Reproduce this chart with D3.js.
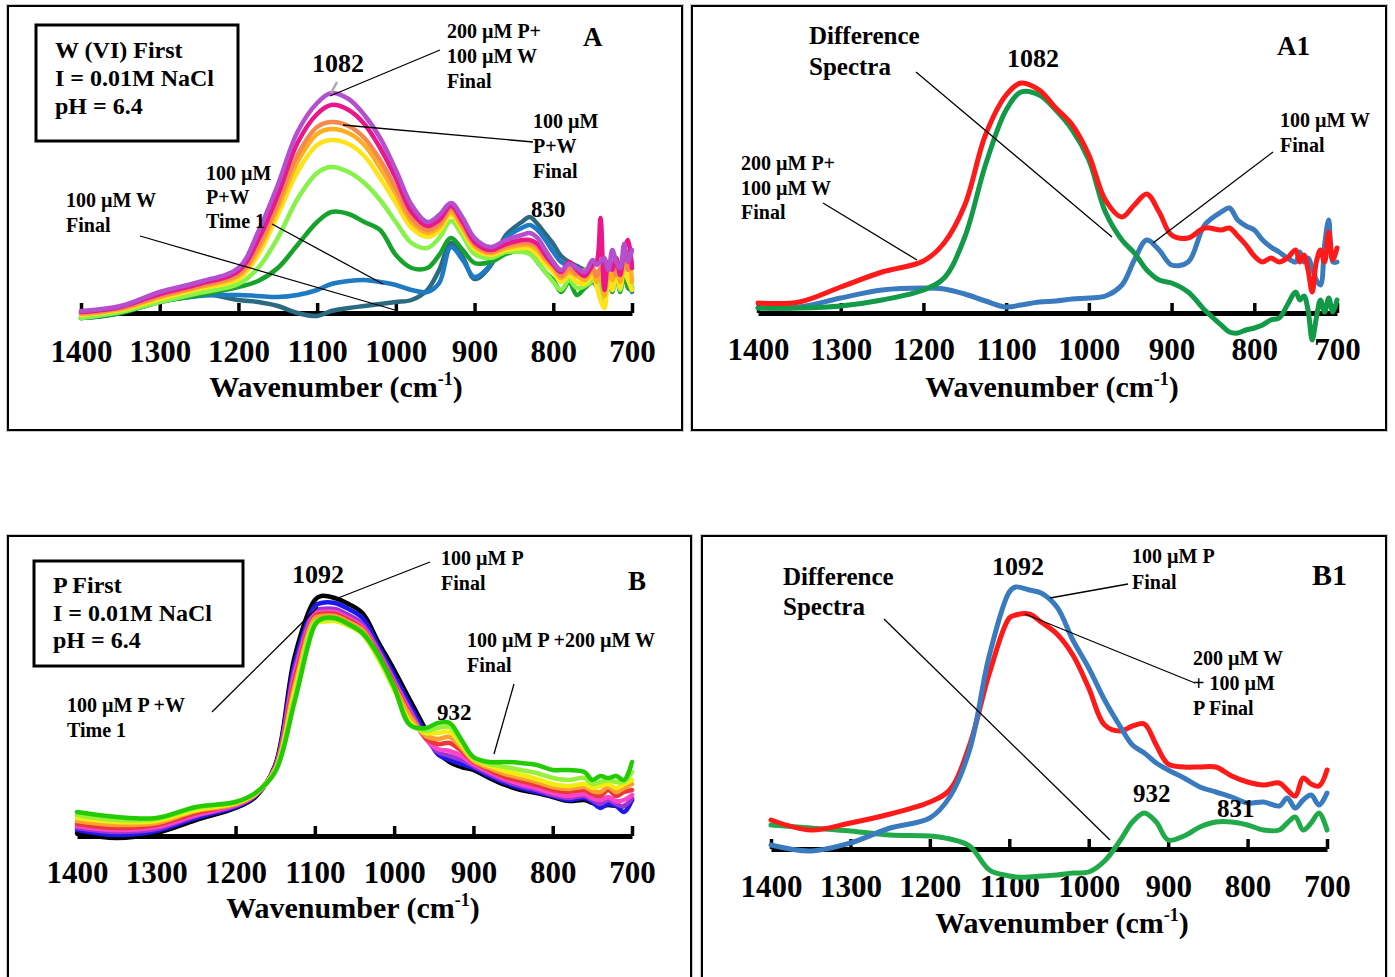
<!DOCTYPE html>
<html>
<head>
<meta charset="utf-8">
<script src="https://cdn.jsdelivr.net/npm/d3@7"></script>
<style>
  body { margin: 0; background: #fff; }
  svg text { font-family: "Liberation Serif", "Times New Roman", serif; font-weight: bold; fill: #000; }
</style>
</head>
<body>
<svg id="chart" width="1395" height="977"></svg>
<script>
// x axis ticks (wavenumber, cm-1)
const tickValues = [1400, 1300, 1200, 1100, 1000, 900, 800, 700];

// wavenumber grids the spectra were read at
const wnTop = [1400,1350,1300,1250,1200,1175,1150,1125,1100,1082,1060,1040,1020,1000,980,960,945,930,915,900,880,860,840,830,820,810,800,790,780,770,760,750,745,740,735,730,725,720,715,710,705,700];
const wnBottom = [1400,1350,1300,1250,1200,1175,1150,1125,1100,1092,1075,1060,1040,1020,1000,980,960,945,930,915,900,880,860,840,820,800,780,760,750,740,730,720,710,700];

// Panel A - W(VI) first, absorbance (a.u. x100)
const aPurple  = [2,7,21,31,45,81,128,181,210,220,214,198,175,143,108,91,98,110,95,75,66,73,78,80,75,63,51,43,49,45,41,53,48,51,55,43,63,51,45,69,51,63];
const aMagenta = [1,6,19,29,42,73,118,170,199,208,203,189,165,135,101,87,93,107,91,71,63,69,73,73,69,58,48,41,51,43,37,48,51,95,23,51,43,55,38,63,73,45];
const aCoral   = [0,5,17,27,39,67,110,158,186,191,187,175,153,125,95,83,89,104,88,69,61,67,70,70,66,55,51,37,45,39,43,45,37,45,41,43,51,38,47,57,43,51];
const aOrange  = [-1,4,16,26,37,63,105,151,179,184,180,168,145,119,91,80,86,101,85,67,60,65,68,68,63,53,45,35,41,37,33,43,31,38,17,41,33,51,31,51,61,31];
const aYellow  = [-2,3,14,24,34,58,98,141,168,173,169,157,135,110,85,76,82,98,82,64,58,63,65,64,58,49,41,31,37,31,29,37,27,13,5,33,23,45,25,47,33,23];
const aLime    = [-5,1,11,20,29,45,75,114,140,146,141,130,113,91,70,65,75,92,77,59,55,61,61,59,51,41,31,23,33,25,27,33,41,23,13,31,23,41,23,43,33,27];
const aGreen   = [-5,0,11,18,26,32,45,68,91,101,99,91,83,58,45,45,58,75,63,50,51,59,63,61,51,41,33,21,31,18,25,31,27,21,15,33,21,43,21,41,25,23];
const aBlue    = [-5,0,11,17,18,17,16,18,23,29,32,33,31,28,23,21,30,66,53,36,48,75,85,88,83,73,61,51,47,45,41,43,35,31,23,38,28,43,23,38,31,21];
const aTeal    = [-5,0,16,20,13,11,7,0,-3,2,5,7,9,11,13,23,43,70,56,34,47,78,91,96,89,79,69,57,51,47,43,41,37,31,27,41,33,41,27,41,33,25];

// Panel A1 - difference spectra
const a1Red   = [10,11,26,41,52,70,108,178,218,230,223,205,188,158,113,96,108,119,101,78,75,85,83,85,77,68,57,51,55,51,55,63,51,58,43,21,51,63,51,81,53,65];
const a1Green = [5,5,7,13,23,35,76,148,203,221,218,203,183,153,101,73,60,43,33,30,21,3,-12,-19,-20,-17,-15,-12,-7,-5,8,21,13,17,3,-27,-5,13,1,15,1,13];
const a1Blue  = [5,6,15,23,25,24,19,12,6,8,11,12,14,15,17,28,53,73,63,48,51,88,101,105,93,87,83,73,66,61,55,51,61,51,55,45,33,28,68,93,51,51];

// Panel B - P first
const bBlack   = [3,-2,3,16,28,39,71,181,236,240,238,233,223,194,166,136,106,84,74,69,66,58,51,46,43,39,35,36,33,30,31,30,30,36];
const bBlue    = [6,1,5,18,29,40,70,174,230,233,233,228,218,190,161,131,102,82,76,72,68,60,53,48,44,40,36,38,34,28,32,30,24,36];
const bPurple  = [8,4,7,20,30,41,69,168,225,227,227,222,212,186,156,126,98,84,80,76,70,62,55,50,46,41,38,40,36,32,36,32,30,38];
const bMagenta = [10,6,9,21,31,41,68,164,222,224,224,219,209,184,154,124,97,87,85,80,72,64,57,52,48,43,40,42,38,36,39,35,36,41];
const bRed     = [12,8,11,23,32,42,68,158,220,222,222,217,207,182,152,122,98,92,93,85,74,66,59,55,51,46,44,46,42,40,46,40,44,46];
const bOrange  = [15,11,13,25,32,42,67,152,218,220,220,215,206,180,150,120,100,97,99,88,75,68,62,58,54,49,47,49,45,44,49,44,48,52];
const bYellow  = [18,14,15,26,33,42,66,146,213,214,215,211,202,177,146,114,103,103,104,91,77,70,65,61,57,52,50,52,48,50,52,48,52,56];
const bLime    = [21,16,17,28,34,43,66,141,214,216,217,212,203,179,148,112,105,108,109,94,78,72,69,66,63,58,56,58,52,54,56,54,54,64];
const bGreen   = [24,19,18,29,34,43,64,136,211,217,218,213,203,181,149,111,108,113,113,96,79,74,74,73,71,66,66,64,56,60,58,60,56,74];

// Panel B1 - difference spectra
const b1Red   = [29,19,26,35,47,59,104,176,231,234,235,227,215,194,161,124,118,123,125,104,85,82,82,82,73,67,64,66,59,53,71,65,63,79];
const b1Blue  = [4,-2,6,21,31,52,99,194,257,262,259,256,242,209,181,149,122,104,96,86,79,71,62,57,52,46,47,43,51,41,49,54,44,56];
const b1Green = [24,21,18,14,13,10,3,-21,-27,-28,-28,-27,-26,-24,-23,-12,9,27,36,27,9,13,22,27,27,24,19,19,26,32,19,26,36,19];

const svg = d3.select('#chart');

const panels = [
    {
        frame: [8, 6, 682, 430], xRange: [81, 632], axisY: 313, wn: wnTop,
        tickBase: 362, titleX: 336, titleY: 397, lineWidth: 4.5,
        series: [
            [aTeal, '#2b6a80'], [aBlue, '#1f7ac4'], [aGreen, '#17a32b'], [aLime, '#86f24a'],
            [aYellow, '#ffe31a'], [aOrange, '#ffae1f'], [aCoral, '#f5884f'], [aMagenta, '#ea168c'], [aPurple, '#b54fce']
        ],
        box: [36, 25, 202, 116],
        texts: [
            { x: 55, y: 58, lh: 28, size: 24, lines: ['W (VI) First', 'I = 0.01M NaCl', 'pH = 6.4'] },
            { x: 338, y: 72, size: 26, anchor: 'middle', lines: ['1082'] },
            { x: 583, y: 46, size: 27, lines: ['A'] },
            { x: 447, y: 38, lh: 25, size: 20, lines: ['200 µM P+', '100 µM W', 'Final'] },
            { x: 533, y: 128, lh: 25, size: 20, lines: ['100 µM', 'P+W', 'Final'] },
            { x: 531, y: 217, size: 23, lines: ['830'] },
            { x: 206, y: 180, lh: 24, size: 20, lines: ['100 µM', 'P+W', 'Time 1'] },
            { x: 66, y: 207, lh: 25, size: 20, lines: ['100 µM W', 'Final'] }
        ],
        leaders: [[440, 50, 330, 96], [533, 142, 343, 125], [272, 224, 383, 284], [140, 236, 395, 310]],
        marks: [[331, 93, 337, 82]]
    },
    {
        frame: [692, 6, 1386, 430], xRange: [758, 1337], axisY: 313, wn: wnTop,
        tickBase: 360, titleX: 1052, titleY: 397, lineWidth: 5,
        series: [[a1Blue, '#3a7bc0'], [a1Green, '#129a48'], [a1Red, '#ff1a1a']],
        texts: [
            { x: 809, y: 44, lh: 31, size: 25, lines: ['Difference', 'Spectra'] },
            { x: 1033, y: 67, size: 26, anchor: 'middle', lines: ['1082'] },
            { x: 1277, y: 55, size: 27, lines: ['A1'] },
            { x: 741, y: 170, lh: 24.5, size: 20, lines: ['200 µM P+', '100 µM W', 'Final'] },
            { x: 1280, y: 127, lh: 25, size: 20, lines: ['100 µM W', 'Final'] }
        ],
        leaders: [[916, 72, 1112, 237], [823, 203, 917, 260], [1273, 152, 1153, 243]]
    },
    {
        frame: [8, 536, 691, 990], xRange: [77, 632], axisY: 836, wn: wnBottom,
        tickBase: 883, titleX: 353, titleY: 918, lineWidth: 4.5,
        series: [
            [bBlack, '#000000'], [bBlue, '#1a1aee'], [bPurple, '#a033d4'], [bMagenta, '#ff44cc'],
            [bRed, '#e8383a'], [bOrange, '#ff9f30'], [bYellow, '#f2ec10'], [bLime, '#99f03a'], [bGreen, '#22cc00']
        ],
        box: [34, 561, 209, 105],
        texts: [
            { x: 53, y: 593, lh: 27.5, size: 24, lines: ['P First', 'I = 0.01M NaCl', 'pH = 6.4'] },
            { x: 318, y: 583, size: 26, anchor: 'middle', lines: ['1092'] },
            { x: 441, y: 565, lh: 25, size: 20, lines: ['100 µM P', 'Final'] },
            { x: 67, y: 712, lh: 25, size: 20, lines: ['100 µM P +W', 'Time 1'] },
            { x: 467, y: 647, lh: 25, size: 20, lines: ['100 µM P +200 µM W', 'Final'] },
            { x: 437, y: 720, size: 23, lines: ['932'] },
            { x: 628, y: 590, size: 27, lines: ['B'] }
        ],
        leaders: [[430, 562, 333, 600], [212, 712, 318, 607], [514, 684, 494, 754]]
    },
    {
        frame: [702, 536, 1386, 990], xRange: [771, 1327], axisY: 849, wn: wnBottom,
        tickBase: 897, titleX: 1062, titleY: 933, lineWidth: 5,
        series: [[b1Green, '#22aa4a'], [b1Red, '#ff1a1a'], [b1Blue, '#3a7bc0']],
        texts: [
            { x: 783, y: 585, lh: 30, size: 25, lines: ['Difference', 'Spectra'] },
            { x: 1018, y: 575, size: 26, anchor: 'middle', lines: ['1092'] },
            { x: 1132, y: 563, lh: 26, size: 20, lines: ['100 µM P', 'Final'] },
            { x: 1312, y: 585, size: 30, lines: ['B1'] },
            { x: 1193, y: 665, lh: 25, size: 20, lines: ['200 µM W', '+ 100 µM', 'P Final'] },
            { x: 1133, y: 802, size: 25, lines: ['932'] },
            { x: 1217, y: 817, size: 25, lines: ['831'] }
        ],
        leaders: [[884, 619, 1110, 840], [1128, 584, 1050, 598], [1195, 683, 1025, 614]]
    }
];

function drawPanel(p) {
    const g = svg.append('g');
    const [fx0, fy0, fx1, fy1] = p.frame;

    // frame: faint grey edge, then the black border
    g.append('rect')
        .attr('x', fx0 - 1.5).attr('y', fy0 - 1.5)
        .attr('width', fx1 - fx0 + 3).attr('height', fy1 - fy0 + 3)
        .attr('fill', 'none').attr('stroke', '#c8c8c8').attr('stroke-width', 1);
    g.append('rect')
        .attr('x', fx0).attr('y', fy0)
        .attr('width', fx1 - fx0).attr('height', fy1 - fy0)
        .attr('fill', '#fff').attr('stroke', '#000').attr('stroke-width', 2);

    const x = d3.scaleLinear().domain([1400, 700]).range(p.xRange);
    const y = d3.scaleLinear().domain([0, 100]).range([p.axisY, p.axisY - 100]);

    // x axis, ticks pointing up into the plot
    const axis = d3.axisBottom(x)
        .tickValues(tickValues)
        .tickFormat(d3.format('d'))
        .tickSize(-10)
        .tickSizeOuter(0);
    const ax = g.append('g')
        .attr('transform', `translate(0,${p.axisY})`)
        .call(axis);
    ax.select('.domain').attr('stroke', '#000').attr('stroke-width', 5);
    ax.selectAll('.tick line').attr('stroke', '#000').attr('stroke-width', 3.5);
    ax.selectAll('.tick text')
        .attr('y', p.tickBase - p.axisY)
        .attr('dy', 0)
        .attr('font-size', 31)
        .attr('font-family', null);

    const line = d3.line()
        .x((d, i) => x(p.wn[i]))
        .y(d => y(d))
        .curve(d3.curveCatmullRom.alpha(0.5));

    p.series.forEach(([values, color]) => {
        g.append('path')
            .datum(values)
            .attr('d', line)
            .attr('fill', 'none')
            .attr('stroke', color)
            .attr('stroke-width', p.lineWidth)
            .attr('stroke-linejoin', 'round')
            .attr('stroke-linecap', 'round');
    });

    // axis title with superscript
    const title = g.append('text')
        .attr('x', p.titleX).attr('y', p.titleY)
        .attr('text-anchor', 'middle')
        .attr('font-size', 30);
    title.append('tspan').text('Wavenumber (cm');
    title.append('tspan').attr('dy', -12).attr('font-size', 18).text('-1');
    title.append('tspan').attr('dy', 12).text(')');

    if (p.box) {
        g.append('rect')
            .attr('x', p.box[0]).attr('y', p.box[1])
            .attr('width', p.box[2]).attr('height', p.box[3])
            .attr('fill', 'none').attr('stroke', '#000').attr('stroke-width', 3);
    }

    p.leaders.forEach(l => {
        g.append('line')
            .attr('x1', l[0]).attr('y1', l[1]).attr('x2', l[2]).attr('y2', l[3])
            .attr('stroke', '#000').attr('stroke-width', 1.3);
    });
    (p.marks || []).forEach(l => {
        g.append('line')
            .attr('x1', l[0]).attr('y1', l[1]).attr('x2', l[2]).attr('y2', l[3])
            .attr('stroke', '#aaa').attr('stroke-width', 2.5);
    });

    p.texts.forEach(t => {
        const txt = g.append('text')
            .attr('font-size', t.size)
            .attr('text-anchor', t.anchor || 'start');
        t.lines.forEach((ln, i) => {
            txt.append('tspan')
                .attr('x', t.x)
                .attr('y', t.y + i * (t.lh || 0))
                .text(ln);
        });
    });
}

panels.forEach(drawPanel);
</script>
</body>
</html>
